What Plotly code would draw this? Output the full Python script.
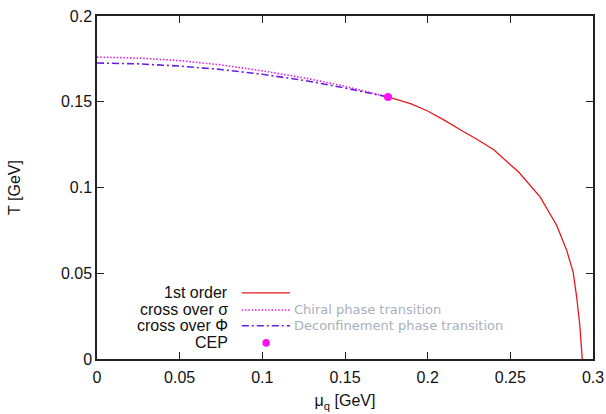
import plotly.graph_objects as go

# Data
mu_chiral = [0.0, 0.025, 0.05, 0.075, 0.1, 0.125, 0.15, 0.176]
T_chiral = [0.176, 0.1755, 0.174, 0.1715, 0.168, 0.164, 0.159, 0.1528]

mu_deconf = [0.0, 0.025, 0.05, 0.075, 0.1, 0.125, 0.15, 0.176]
T_deconf = [0.1726, 0.1721, 0.1708, 0.1688, 0.166, 0.1625, 0.158, 0.1528]

mu_first = [0.176, 0.19, 0.2, 0.21, 0.22, 0.23, 0.24, 0.255, 0.268, 0.278, 0.284, 0.288, 0.290, 0.292, 0.2935]
T_first = [0.1528, 0.1488, 0.1446, 0.1393, 0.1335, 0.128, 0.122, 0.109, 0.0945, 0.078, 0.0636, 0.0507, 0.037, 0.02, 0.0]

mu_cep = [0.176]
T_cep = [0.1528]

x_ticks = [0, 0.05, 0.1, 0.15, 0.2, 0.25, 0.3]
x_tick_labels = ["0", "0.05", "0.1", "0.15", "0.2", "0.25", "0.3"]
y_ticks = [0, 0.05, 0.1, 0.15, 0.2]
y_tick_labels = ["0", "0.05", "0.1", "0.15", "0.2"]

legend_labels = ["1st order", "cross over σ", "cross over Φ", "CEP"]
legend_notes = ["", "Chiral phase transition", "Deconfinement phase transition", ""]

RED = "#e31a1c"
MAG = "#e81ee8"
PUR = "#6a1ee0"
CEPC = "#ff10f0"
FONT = "Liberation Sans"
DOT = "1.5px,1.8px"
DASHDOT = "7px,3px,2px,3px"

fig = go.Figure()
fig.add_trace(go.Scatter(x=mu_chiral, y=T_chiral, mode="lines",
                         line=dict(color=MAG, width=1.6, dash=DOT), showlegend=False))
fig.add_trace(go.Scatter(x=mu_deconf, y=T_deconf, mode="lines",
                         line=dict(color=PUR, width=1.6, dash=DASHDOT), showlegend=False))
fig.add_trace(go.Scatter(x=mu_first, y=T_first, mode="lines",
                         line=dict(color=RED, width=1.3), showlegend=False))
fig.add_trace(go.Scatter(x=mu_cep, y=T_cep, mode="markers",
                         marker=dict(color=CEPC, size=8), showlegend=False))

# gnuplot-style legend built from annotations and shapes
rows_y = [0.193, 0.143, 0.097, 0.047]
text_right = 0.268
s0, s1 = 0.292, 0.389
styles = [dict(color=RED, width=1.3), dict(color=MAG, width=1.6, dash=DOT),
          dict(color=PUR, width=1.6, dash=DASHDOT), None]
for i, lab in enumerate(legend_labels):
    fig.add_annotation(x=text_right, y=rows_y[i], xref="paper", yref="paper",
                       text=lab, showarrow=False, xanchor="right", yanchor="middle",
                       font=dict(family=FONT, size=16, color="#111111"))
    if styles[i] is not None:
        fig.add_shape(type="line", xref="paper", yref="paper",
                      x0=s0, x1=s1, y0=rows_y[i], y1=rows_y[i], line=styles[i])
    else:
        fig.add_shape(type="circle", xref="paper", yref="paper",
                      x0=0.341 - 0.0075, x1=0.341 + 0.0075,
                      y0=rows_y[i] - 0.011, y1=rows_y[i] + 0.011,
                      fillcolor=CEPC, line=dict(color=CEPC, width=0))
    if legend_notes[i]:
        fig.add_annotation(x=0.393, y=rows_y[i], xref="paper", yref="paper",
                           text=legend_notes[i], showarrow=False, xanchor="left",
                           yanchor="middle",
                           font=dict(family="DejaVu Sans", size=13, color="#a9b0bd"))

axis_common = dict(showgrid=False, zeroline=False, showline=True, linecolor="#222222",
                   linewidth=1.5, mirror="ticks", ticks="inside", ticklen=7,
                   tickcolor="#222222", tickwidth=1.3, automargin=False,
                   ticklabeloverflow="allow",
                   tickfont=dict(family=FONT, size=16, color="#111111"))

fig.update_layout(
    width=606, height=414,
    margin=dict(l=97, r=13, t=16, b=55),
    paper_bgcolor="white", plot_bgcolor="white",
    xaxis=dict(range=[0, 0.3], tickvals=x_ticks, ticktext=x_tick_labels,
               ticklabelstandoff=3,
               title=dict(text="μ<sub>q</sub> [GeV]", standoff=10,
                          font=dict(family=FONT, size=16, color="#111111")),
               **axis_common),
    yaxis=dict(range=[0, 0.2], tickvals=y_ticks, ticktext=y_tick_labels,
               title=dict(text="T [GeV]", standoff=36,
                          font=dict(family=FONT, size=16, color="#111111")),
               **axis_common),
)

fig.write_html(
    "out.html",
    config={"displayModeBar": False},
    post_script="document.body.style.margin='0px';document.body.style.overflow='hidden';",
)
